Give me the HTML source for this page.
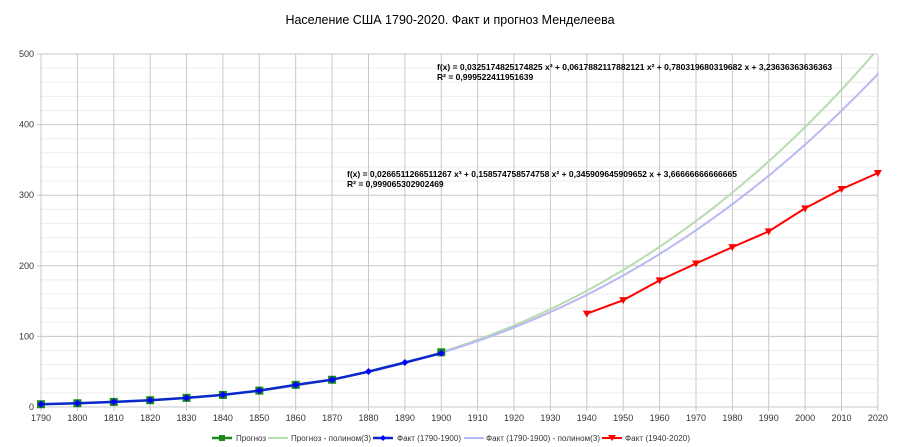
<!DOCTYPE html>
<html><head><meta charset="utf-8"><style>
body{margin:0;background:#fff;}
svg{display:block;font-family:"Liberation Sans",sans-serif;}
</style></head><body>
<svg id="s" width="900" height="447" xmlns="http://www.w3.org/2000/svg"></svg>
<script>
const s=document.getElementById('s');
const X=y=>41+(y-1790)*836.9/230, Y=v=>407-v*0.706;
let h='';
h+='<defs><clipPath id="c"><rect x="41" y="'+Y(500)+'" width="837.5" height="360"/></clipPath></defs>';
h+='<rect width="900" height="447" fill="#fff"/>';
h+='<text x="450" y="24" font-size="12.5" text-anchor="middle" fill="#000">Население США 1790-2020. Факт и прогноз Менделеева</text>';
for(let v=0;v<=500;v+=20){const y=Y(v).toFixed(1);h+=`<line x1="41" x2="878" y1="${y}" y2="${y}" stroke="${v%100?'#ececec':'#c8c8c8'}" stroke-width="1"/>`;}
for(let yr=1790;yr<=2020;yr+=10){const x=X(yr).toFixed(1);h+=`<line x1="${x}" x2="${x}" y1="${Y(500)}" y2="${Y(0)+4}" stroke="#c8c8c8"/>`;h+=`<text x="${x}" y="421" font-size="9" text-anchor="middle" fill="#333">${yr}</text>`;}
for(let v=0;v<=500;v+=100){h+=`<line x1="37" x2="41" y1="${Y(v)}" y2="${Y(v)}" stroke="#c8c8c8"/><text x="34" y="${Y(v)+3}" font-size="9" text-anchor="end" fill="#333">${v}</text>`;}
function curve(a,b,c,d,col){let p='';for(let i=0;i<=232;i++){const yr=1790+i;const x=1+i/10;const v=a*x*x*x+b*x*x+c*x+d;p+=(p?'L':'M')+X(yr).toFixed(1)+' '+Y(v).toFixed(1);}return `<path d="${p}" fill="none" stroke="${col}" stroke-width="2" clip-path="url(#c)"/>`;}
h+=curve(0.0325174825174825,0.0617882117882121,0.780319680319682,3.23636363636363,'#b6dcb0');
h+=curve(0.0266511266511267,0.158574758574758,0.345909645909652,3.66666666666665,'#b8b8f4');
const f=[3.9,5.3,7.2,9.6,12.9,17.1,23.2,31.4,38.6,50.2,63.0,76.2];
const m=[3.9,5.3,7.2,9.6,12.9,17.1,23.2,31.4,38.6,null,null,77.5];
m.forEach((v,i)=>{if(v==null)return;const x=X(1790+i*10),y=Y(v);h+=`<rect x="${x-4}" y="${y-4}" width="8" height="8" fill="#1a8a1a"/>`;});
let p='';f.forEach((v,i)=>{p+=(i?'L':'M')+X(1790+i*10).toFixed(1)+' '+Y(v).toFixed(1);});
h+=`<path d="${p}" fill="none" stroke="#0a28c8" stroke-width="2.5"/>`;
f.forEach((v,i)=>{const x=X(1790+i*10),y=Y(v);h+=`<path d="M${x-3.5} ${y}L${x} ${y-3.5}L${x+3.5} ${y}L${x} ${y+3.5}Z" fill="#0000ff"/>`;});
const r=[132.2,151.3,179.3,203.2,226.5,248.7,281.4,308.7,331.4];
p='';r.forEach((v,i)=>{p+=(i?'L':'M')+X(1940+i*10).toFixed(1)+' '+Y(v).toFixed(1);});
h+=`<path d="${p}" fill="none" stroke="#ff0000" stroke-width="2"/>`;
r.forEach((v,i)=>{const x=X(1940+i*10),y=Y(v);h+=`<path d="M${x-4} ${y-3}L${x+4} ${y-3}L${x} ${y+4}Z" fill="#ff0000"/>`;});
h+='<text x="437" y="70" font-size="8.5" font-weight="bold">f(x) = 0,0325174825174825 x³ + 0,0617882117882121 x² + 0,780319680319682 x + 3,23636363636363</text>';
h+='<text x="437" y="80" font-size="8.5" font-weight="bold">R² = 0,999522411951639</text>';
h+='<text x="347" y="177" font-size="8.5" font-weight="bold">f(x) = 0,0266511266511267 x³ + 0,158574758574758 x² + 0,345909645909652 x + 3,66666666666665</text>';
h+='<text x="347" y="187" font-size="8.5" font-weight="bold">R² = 0,999065302902469</text>';
const ly=438,fs='8';
h+=`<line x1="212" x2="232" y1="${ly}" y2="${ly}" stroke="#1a8a1a" stroke-width="2.5"/><rect x="219" y="${ly-3}" width="6" height="6" fill="#1a8a1a"/><text x="236" y="${ly+3}" font-size="${fs}" fill="#333">Прогноз</text>`;
h+=`<line x1="268" x2="288" y1="${ly}" y2="${ly}" stroke="#b6dcb0" stroke-width="2"/><text x="291" y="${ly+3}" font-size="${fs}" fill="#333" textLength="80">Прогноз - полином(3)</text>`;
h+=`<line x1="373" x2="393" y1="${ly}" y2="${ly}" stroke="#0a28c8" stroke-width="2.5"/><path d="M380 ${ly}L383 ${ly-3}L386 ${ly}L383 ${ly+3}Z" fill="#00f"/><text x="397" y="${ly+3}" font-size="${fs}" fill="#333" textLength="64">Факт (1790-1900)</text>`;
h+=`<line x1="464" x2="484" y1="${ly}" y2="${ly}" stroke="#b8b8f4" stroke-width="2"/><text x="486" y="${ly+3}" font-size="${fs}" fill="#333" textLength="114">Факт (1790-1900) - полином(3)</text>`;
h+=`<line x1="602" x2="622" y1="${ly}" y2="${ly}" stroke="#f00" stroke-width="2"/><path d="M608 ${ly-3}L616 ${ly-3}L612 ${ly+3}Z" fill="#f00"/><text x="625" y="${ly+3}" font-size="${fs}" fill="#333" textLength="65">Факт (1940-2020)</text>`;
s.innerHTML=h;
</script>
</body></html>
